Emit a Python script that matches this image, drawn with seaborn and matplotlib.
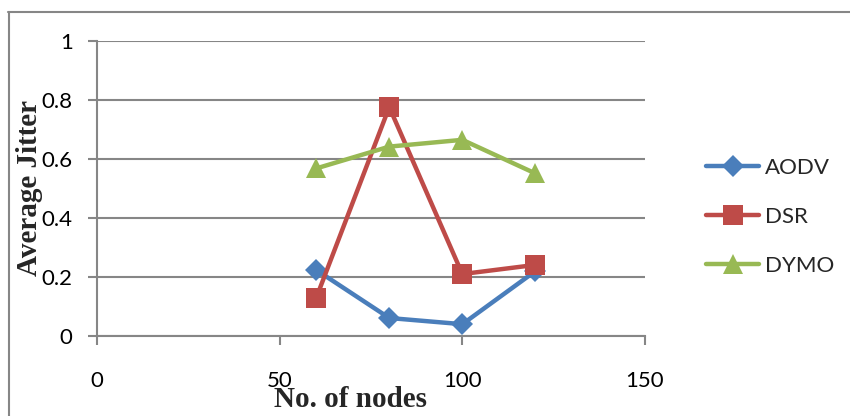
import matplotlib
matplotlib.use("Agg")
import matplotlib.pyplot as plt
from matplotlib.lines import Line2D
import seaborn as sns
import pandas as pd

# Simulation results: average jitter vs. number of nodes
nodes = [60, 80, 100, 120]
aodv = [0.224, 0.061, 0.040, 0.220]
dsr = [0.129, 0.776, 0.210, 0.241]
dymo = [0.568, 0.642, 0.665, 0.551]
protocols = ["AODV", "DSR", "DYMO"]
x_ticks = [0, 50, 100, 150]
y_ticks = [0, 0.2, 0.4, 0.6, 0.8, 1]
y_tick_labels = ["0", "0.2", "0.4", "0.6", "0.8", "1"]

df = pd.DataFrame({
    "nodes": nodes * 3,
    "jitter": aodv + dsr + dymo,
    "protocol": [p for p in protocols for _ in nodes],
})

sns.set_theme(style="white")
plt.rcParams["font.family"] = ["Lato", "DejaVu Sans"]

W, H = 850, 416
fig = plt.figure(figsize=(W / 100, H / 100), dpi=100)
ax = fig.add_axes([97 / W, (H - 336) / H, (645 - 97) / W, (336 - 41) / H])

palette = {"AODV": "#4A7EBB", "DSR": "#BE4B48", "DYMO": "#98B954"}
markers = {"AODV": "D", "DSR": "s", "DYMO": "^"}
sizes = {"AODV": 11, "DSR": 14, "DYMO": 14}

for p in protocols:
    sub = df[df["protocol"] == p]
    sns.lineplot(data=sub, x="nodes", y="jitter", ax=ax, color=palette[p],
                 marker=markers[p], markersize=sizes[p], linewidth=3.2,
                 markeredgewidth=0, label=p, legend=False)

grey = "#868686"
ax.set_xlim(0, 150)
ax.set_ylim(0, 1)
ax.set_xticks(x_ticks)
ax.set_xticklabels([str(t) for t in x_ticks])
ax.set_yticks(y_ticks)
ax.set_yticklabels(y_tick_labels)
ax.yaxis.grid(True, color=grey, linewidth=1.5)
ax.xaxis.grid(False)
ax.set_axisbelow(True)
for s in ["top", "right"]:
    ax.spines[s].set_visible(False)
for s in ["left", "bottom"]:
    ax.spines[s].set_color(grey)
    ax.spines[s].set_linewidth(1.5)
ax.tick_params(axis="both", which="major", length=6.5, width=1.5, color=grey,
               labelsize=16, labelcolor="black")
ax.tick_params(axis="y", pad=11, left=True)
ax.tick_params(axis="x", pad=19, bottom=True)
ax.set_xlabel("")
ax.set_ylabel("")

# Axis titles
fig.text(350 / W, (H - 386) / H, "No. of nodes", ha="center", va="top",
         fontsize=21, fontweight="bold", family="Liberation Serif")
fig.text(30 / W, (H - 188) / H, "Average Jitter", ha="center", va="center",
         rotation=90, fontsize=21, fontweight="bold", family="Liberation Serif")

# Legend
handles = [Line2D([], [], color=palette[p], marker=markers[p], markersize=sizes[p],
                  linewidth=3.2, markeredgewidth=0) for p in protocols]
fig.legend(handles, protocols, loc="center left",
           bbox_to_anchor=(706 / W, (H - 217) / H), frameon=False,
           fontsize=16, handlelength=2.4, handletextpad=0.25, labelspacing=1.3,
           borderpad=0, borderaxespad=0)

# Chart frame
fig.add_artist(Line2D([8.5 / W, 8.5 / W], [0, (H - 12) / H], color=grey, linewidth=1.5))
fig.add_artist(Line2D([8 / W, 1], [(H - 12) / H, (H - 12) / H], color=grey, linewidth=1.5))

fig.savefig("out.png", dpi=100, facecolor="white")
